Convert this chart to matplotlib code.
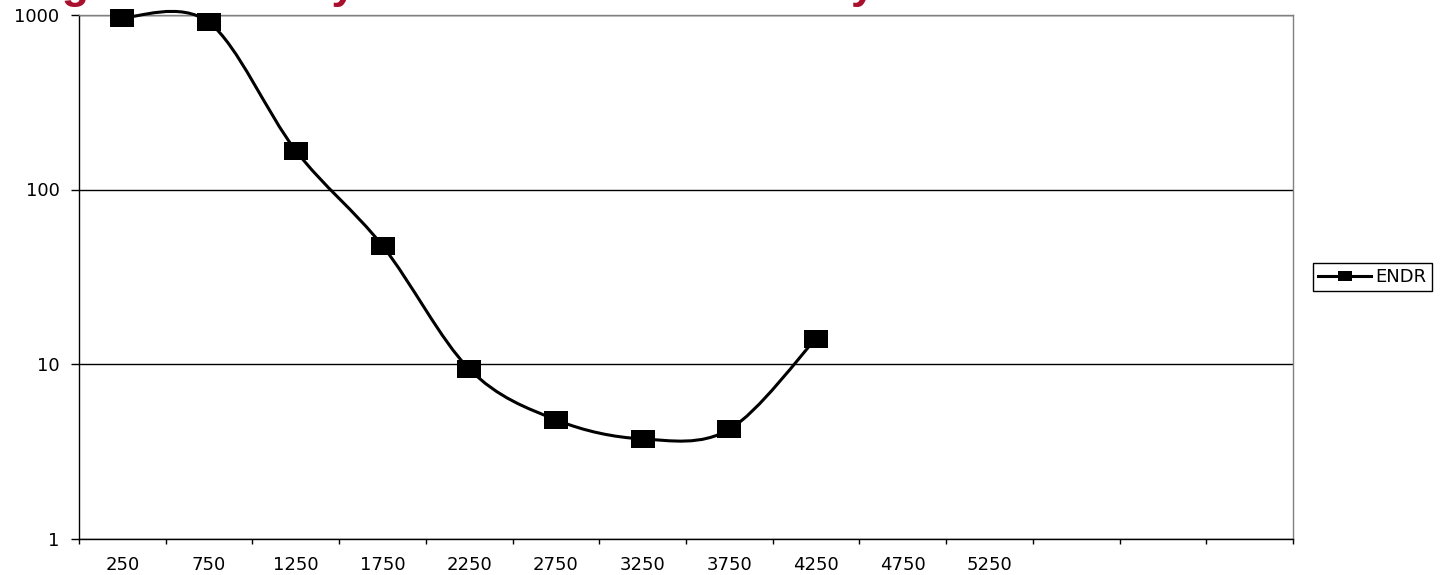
import matplotlib

matplotlib.use("Agg")
import matplotlib.pyplot as plt
import numpy as np
from matplotlib.lines import Line2D
from matplotlib.patches import PathPatch
from matplotlib.path import Path
from matplotlib.ticker import NullLocator

plt.rcParams.update({"font.family": ["DejaVu Sans"], "font.size": 13})

TITLE = "Engine Noise Dynamic Reduction Survey"
FREQ_LABELS = ["250", "750", "1250", "1750", "2250", "2750", "3250", "3750", "4250", "4750", "5250"]
N_SLOTS = 14
ENDR = [967, 906, 167, 47.6, 9.36, 4.79, 3.72, 4.22, 14.0]
Y_TICKS = [1, 10, 100, 1000]

W, H = 1448, 575
AX_LEFT, AX_RIGHT, AX_TOP, AX_BOTTOM = 79, 1293, 15, 538.5

# wide black block used by the series markers
RECT = [(-1, -0.78), (1, -0.78), (1, 0.78), (-1, 0.78), (-1, -0.78)]


def smooth_path(xs, ys):
    # Excel style smoothed line: cubic Bezier pieces built in (x, log y),
    # control points go back to data units so the log axis places them
    pts = np.column_stack([np.asarray(xs, float), np.log10(ys)])
    n = len(pts)
    verts = [pts[0]]
    codes = [Path.MOVETO]
    for i in range(n - 1):
        p0 = pts[max(i - 1, 0)]
        p1 = pts[i]
        p2 = pts[i + 1]
        p3 = pts[min(i + 2, n - 1)]
        verts += [p1 + (p2 - p0) / 6, p2 - (p3 - p1) / 6, p2]
        codes += [Path.CURVE4] * 3
    verts = np.array(verts)
    verts[:, 1] = 10 ** verts[:, 1]
    return Path(verts, codes)


fig = plt.figure(figsize=(W / 100, H / 100), dpi=100)
fig.patch.set_facecolor("white")
ax = fig.add_axes(
    [AX_LEFT / W, 1 - AX_BOTTOM / H, (AX_RIGHT - AX_LEFT) / W, (AX_BOTTOM - AX_TOP) / H]
)

x = np.arange(len(ENDR))
ax.add_patch(
    PathPatch(smooth_path(x, ENDR), facecolor="none", edgecolor="black", linewidth=2.2,
              zorder=3, clip_on=False)
)
ax.plot(x, ENDR, linestyle="none", marker=RECT, markersize=17.3, markeredgewidth=0,
        color="black", zorder=4, clip_on=False)

ax.set_yscale("log")
ax.set_ylim(1, 1000)
ax.set_xlim(-0.5, N_SLOTS - 0.5)

ax.set_yticks(Y_TICKS, labels=[str(v) for v in Y_TICKS])
ax.yaxis.set_minor_locator(NullLocator())
ax.tick_params(axis="y", which="major", direction="out", length=5.8, width=1.0, pad=8.2,
               color="black", labelsize=13)

ax.set_xticks(np.arange(-0.5, N_SLOTS, 1), labels=[])
ax.set_xticks(np.arange(len(FREQ_LABELS)), labels=FREQ_LABELS, minor=True)
ax.tick_params(axis="x", which="major", direction="out", length=3.6, width=1.0, color="black")
ax.tick_params(axis="x", which="minor", length=0, pad=12.5, labelsize=13)

ax.yaxis.grid(True, color="black", linewidth=1.0)
ax.set_axisbelow(True)
for side in ("left", "bottom"):
    ax.spines[side].set_color("black")
    ax.spines[side].set_linewidth(1.0)
for side in ("top", "right"):
    ax.spines[side].set_color("#808080")
    ax.spines[side].set_linewidth(1.0)

handle = Line2D([], [], color="black", linewidth=2.2, marker=RECT, markersize=10,
                markeredgewidth=0, label="ENDR")
leg = ax.legend(
    handles=[handle],
    loc="center left",
    bbox_to_anchor=(1313 / W, 1 - 277 / H),
    bbox_transform=fig.transFigure,
    fancybox=False,
    framealpha=1,
    edgecolor="black",
    fontsize=13,
    handlelength=2.9,
    handletextpad=0.25,
    borderpad=0.3,
    borderaxespad=0,
)
leg.get_frame().set_linewidth(1.0)

# title sits above the canvas, only its descenders show
fig.text(5 / W, 1 + 2 / H, TITLE, fontsize=32, fontweight="bold", color="#A8102E",
         family=["Liberation Sans", "DejaVu Sans"], ha="left", va="baseline")

fig.savefig("out.png", dpi=100)
